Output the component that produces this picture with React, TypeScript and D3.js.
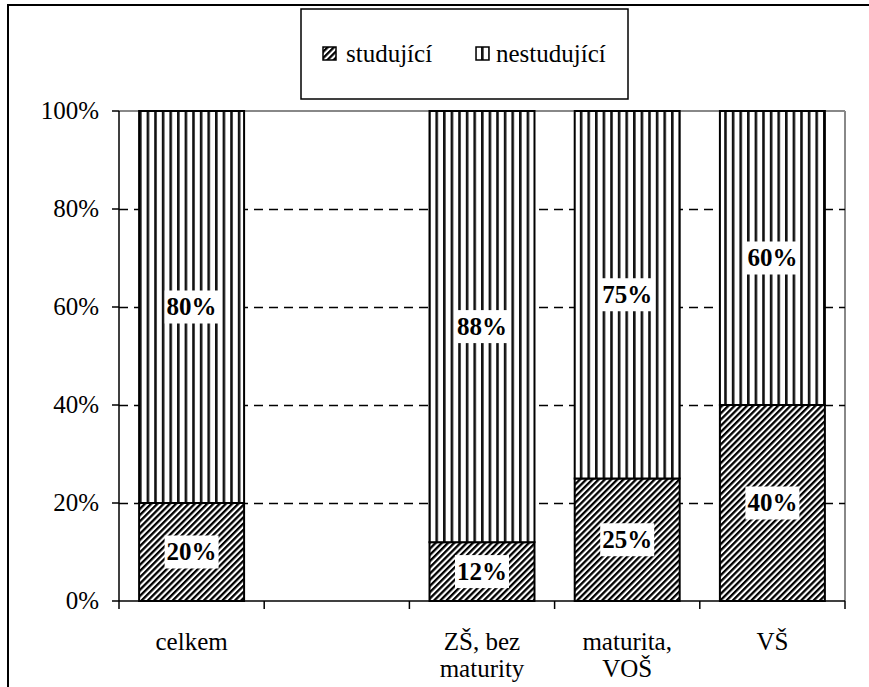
import React from "react";
import * as d3 from "d3";

const categories = ["celkem", "", "ZŠ, bez maturity", "maturita, VOŠ", "VŠ"];
const categoryLines = [["celkem"], [""], ["ZŠ, bez", "maturity"], ["maturita,", "VOŠ"], ["VŠ"]];
const studujici = [20, null, 12, 25, 40];
const nestudujici = [80, null, 88, 75, 60];
const yTicks = [0, 20, 40, 60, 80, 100];
const seriesNames = ["studující", "nestudující"];

const W = 869;
const H = 687;
const left = 119;
const right = 845;
const top = 111;
const bottom = 601;
const FF = "Liberation Serif";
const FS = 25;

export default function App() {
  const x = d3
    .scaleBand<string>()
    .domain(categories)
    .range([left, right])
    .paddingInner(0.277)
    .paddingOuter(0.1385);
  const y = d3.scaleLinear().domain([0, 100]).range([bottom, top]);
  const step = x.step();
  const boundaries = d3.range(categories.length + 1).map((i) => left + i * step);

  const labelBox = (cx: number, cy: number, txt: string, key: string) => {
    const w = (txt.length - 1) * 0.5 * FS + FS + 4;
    const h = 33;
    return (
      <g key={key}>
        <rect x={cx - w / 2} y={cy - h / 2} width={w} height={h} fill="#fff" />
        <text x={cx} y={cy + 8} textAnchor="middle" fontFamily={FF} fontSize={FS} fontWeight="bold" fill="#000">
          {txt}
        </text>
      </g>
    );
  };

  return (
    <svg width={W} height={H} fontFamily={FF} style={{ position: "absolute", left: 0, top: 0, background: "#fff" }}>
      <defs>
        <pattern id="diag" patternUnits="userSpaceOnUse" width={4.4} height={10} patternTransform="rotate(45)">
          <rect x={0} y={0} width={4.4} height={10} fill="#fff" />
          <rect x={0} y={0} width={2.3} height={10} fill="#000" />
        </pattern>
        <pattern id="vert" patternUnits="userSpaceOnUse" width={7.6} height={10} x={left + 20}>
          <rect x={0} y={0} width={7.6} height={10} fill="#fff" />
          <rect x={0} y={0} width={2.6} height={10} fill="#111" />
        </pattern>
      </defs>
      <rect x={0} y={0} width={W} height={H} fill="#fff" />
      {/* outer frame */}
      <rect x={8} y={5} width={W + 20} height={H + 20} fill="none" stroke="#000" strokeWidth={2} />

      {/* plot area border (gray) */}
      <line x1={left} x2={right} y1={top} y2={top} stroke="#888" strokeWidth={2} />
      <line x1={right} x2={right} y1={top} y2={bottom} stroke="#888" strokeWidth={2} />

      {/* gridlines */}
      {yTicks
        .filter((t) => t > 0 && t < 100)
        .map((t) => (
          <line key={t} x1={left} x2={right} y1={Math.round(y(t)) + 0.5} y2={Math.round(y(t)) + 0.5} stroke="#000" strokeWidth={1.3} strokeDasharray="9,6" />
        ))}

      {/* bars */}
      {categories.map((c, i) => {
        const s = studujici[i];
        const n = nestudujici[i];
        if (s == null || n == null) return null;
        const bx = x(c)!;
        const bw = x.bandwidth();
        return (
          <g key={"bar" + i}>
            <rect x={bx} y={y(s)} width={bw} height={y(0) - y(s)} fill="url(#diag)" stroke="#000" strokeWidth={2} />
            <rect x={bx} y={y(s + n)} width={bw} height={y(s) - y(s + n)} fill="url(#vert)" stroke="#000" strokeWidth={2} />
          </g>
        );
      })}

      {/* labels */}
      {categories.map((c, i) => {
        const s = studujici[i];
        const n = nestudujici[i];
        if (s == null || n == null) return null;
        const cx = x(c)! + x.bandwidth() / 2;
        return (
          <g key={"lab" + i}>
            {labelBox(cx, (y(0) + y(s)) / 2, `${s}%`, "s" + i)}
            {labelBox(cx, (y(s) + y(s + n)) / 2, `${n}%`, "n" + i)}
          </g>
        );
      })}

      {/* axes */}
      <line x1={left} x2={left} y1={top} y2={bottom} stroke="#000" strokeWidth={1.5} />
      <line x1={left} x2={right} y1={bottom} y2={bottom} stroke="#000" strokeWidth={1.5} />
      {yTicks.map((t) => (
        <g key={"yt" + t}>
          <line x1={left - 7} x2={left} y1={y(t)} y2={y(t)} stroke="#000" strokeWidth={1.5} />
          <text x={99} y={y(t) + 8} textAnchor="end" fontFamily={FF} fontSize={FS} fill="#000">
            {t}%
          </text>
        </g>
      ))}
      {boundaries.map((bx, i) => (
        <line key={"xt" + i} x1={bx} x2={bx} y1={bottom} y2={bottom + 8} stroke="#000" strokeWidth={1.5} />
      ))}
      {categories.map((c, i) => {
        const cx = x(c)! + x.bandwidth() / 2;
        return (
          <text key={"xl" + i} textAnchor="middle" fontFamily={FF} fontSize={FS} fill="#000">
            {categoryLines[i].map((ln, j) => (
              <tspan key={j} x={cx} y={650 + j * 27}>
                {ln}
              </tspan>
            ))}
          </text>
        );
      })}

      {/* legend */}
      <rect x={301} y={9} width={327} height={90} fill="#fff" stroke="#000" strokeWidth={1.5} />
      <rect x={323} y={47} width={13} height={13} fill="url(#diag)" stroke="#000" strokeWidth={1.5} />
      <text x={346} y={62} fontFamily={FF} fontSize={FS} fill="#000">
        {seriesNames[0]}
      </text>
      <rect x={476} y={47} width={13} height={13} fill="url(#vert)" stroke="#000" strokeWidth={1.5} />
      <text x={496} y={62} fontFamily={FF} fontSize={FS} fill="#000">
        {seriesNames[1]}
      </text>
    </svg>
  );
}
